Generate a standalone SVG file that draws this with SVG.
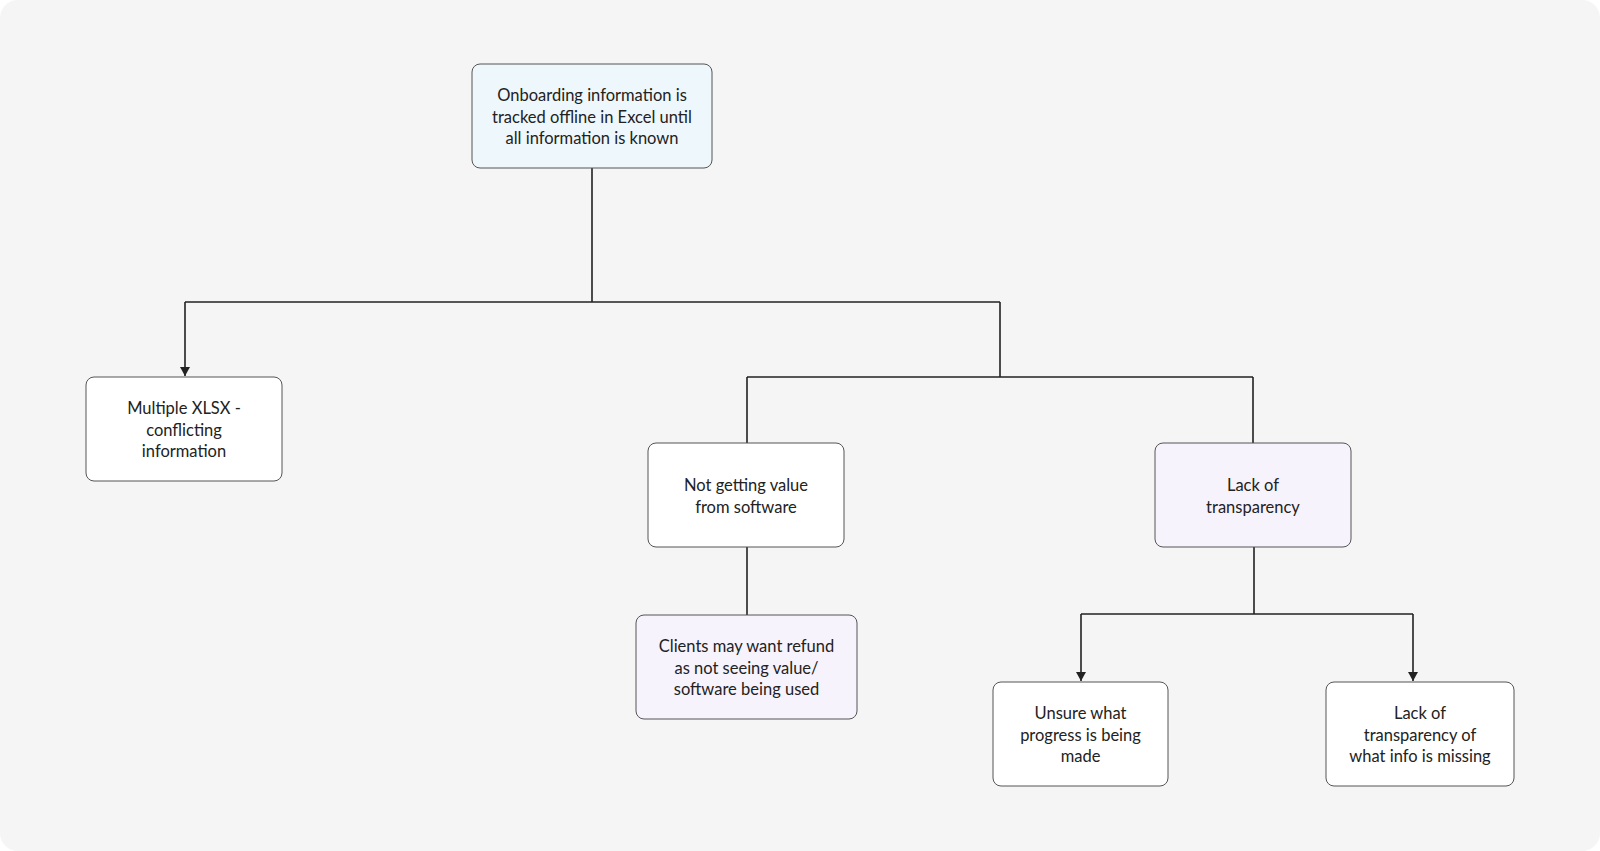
<svg xmlns="http://www.w3.org/2000/svg" width="1600" height="851" viewBox="0 0 1600 851">
<style>
.n rect{stroke:#555;stroke-width:1;rx:8}
.n text{font-family:Lato,"Open Sans",sans-serif;font-size:16.5px;fill:#222;text-anchor:middle}
.c path{fill:none;stroke:#222;stroke-width:1.6}
</style>
<defs><marker id="a" markerWidth="10" markerHeight="10" refX="5" refY="8" orient="auto" markerUnits="userSpaceOnUse" viewBox="0 0 10 10"><path d="M0,0 L10,0 L5,8Z" fill="#222" transform="translate(0,0)"/></marker>
<marker id="d" markerWidth="10" markerHeight="10" refX="5" refY="9" markerUnits="userSpaceOnUse" viewBox="0 0 10 10"><path d="M0,0 L10,0 L5,9Z" fill="#222"/></marker></defs>
<rect width="1600" height="851" fill="#ffffff"/>
<rect x="0" y="0" width="1600" height="851" rx="18" fill="#f5f5f5"/>
<g class="c">
<path d="M592,168V302M185,302H1000M185,302V376" marker-end="url(#d)"/>
<path d="M1000,302V377M747,377H1253M747,377V443M1253,377V443"/>
<path d="M747,547V615"/>
<path d="M1254,547V614M1081,614H1413"/>
<path d="M1081,614V681" marker-end="url(#d)"/>
<path d="M1413,614V681" marker-end="url(#d)"/>
</g>
<g id="n1" class="n"><rect x="472" y="64" width="240" height="104" fill="#eef7fc"/><text x="592" y="101">Onboarding information is</text><text x="592" y="122.5">tracked offline in Excel until</text><text x="592" y="144">all information is known</text></g>
<g id="n2" class="n"><rect x="86" y="377" width="196" height="104" fill="#fff"/><text x="184" y="414">Multiple XLSX -</text><text x="184" y="435.5">conflicting</text><text x="184" y="457">information</text></g>
<g id="n3" class="n"><rect x="648" y="443" width="196" height="104" fill="#fff"/><text x="746" y="491">Not getting value</text><text x="746" y="512.5">from software</text></g>
<g id="n4" class="n"><rect x="1155" y="443" width="196" height="104" fill="#f7f3fc"/><text x="1253" y="491">Lack of</text><text x="1253" y="512.5">transparency</text></g>
<g id="n5" class="n"><rect x="636" y="615" width="221" height="104" fill="#f7f3fc"/><text x="746.5" y="652">Clients may want refund</text><text x="746.5" y="673.5">as not seeing value/</text><text x="746.5" y="695">software being used</text></g>
<g id="n6" class="n"><rect x="993" y="682" width="175" height="104" fill="#fff"/><text x="1080.5" y="719">Unsure what</text><text x="1080.5" y="740.5">progress is being</text><text x="1080.5" y="762">made</text></g>
<g id="n7" class="n"><rect x="1326" y="682" width="188" height="104" fill="#fff"/><text x="1420" y="719">Lack of</text><text x="1420" y="740.5">transparency of</text><text x="1420" y="762">what info is missing</text></g>
</svg>
